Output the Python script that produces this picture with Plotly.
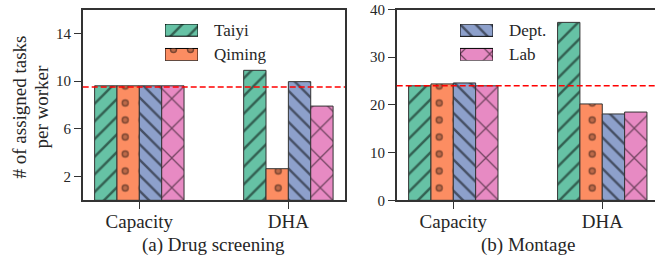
import plotly.graph_objects as go

# ---------------- data ----------------
categories = ["Capacity", "DHA"]
methods = ["Taiyi", "Qiming", "Dept.", "Lab"]
drug_taiyi = [9.6, 10.9]
drug_qiming = [9.6, 2.65]
drug_dept = [9.6, 9.95]
drug_lab = [9.6, 7.9]
montage_taiyi = [24.0, 37.3]
montage_qiming = [24.4, 20.2]
montage_dept = [24.6, 18.1]
montage_lab = [24.0, 18.5]
drug_baseline = 9.5
montage_baseline = 24.0
drug_yticks = [2, 6, 10, 14]
montage_yticks = [0, 10, 20, 30, 40]
subtitles = ["(a) Drug screening", "(b) Montage"]
ytitle_lines = ["# of assigned tasks", "per worker"]

# ---------------- style ----------------
W, H = 655, 260
FONT = "Liberation Serif, Times New Roman, Times, DejaVu Serif, serif"
TXT = "#262626"
EDGE = "#333333"
colors = {"Taiyi": "#66c2a5", "Qiming": "#fc8d62", "Dept.": "#8da0cb", "Lab": "#e78ac3"}
patterns = {
    "Taiyi": dict(shape="/", size=12.5, solidity=0.2, fgcolor="black"),
    "Qiming": dict(shape=".", size=17, solidity=0.15, fgcolor="black"),
    "Dept.": dict(shape="\\", size=11, solidity=0.22, fgcolor="black"),
    "Lab": dict(shape="x", size=21, solidity=0.12, fgcolor="black"),
}
ring_inner = dict(shape=".", size=17, solidity=0.055, fgcolor="#fc8d62", bgcolor="rgba(0,0,0,0)")
BW = 0.15
offsets = {m: -2 * BW + i * BW for i, m in enumerate(methods)}


def px_x(p):
    return p / W


def px_y(p):
    return 1 - p / H


fig = go.Figure()


def add_panel(vals, xa, ya):
    for m, v in zip(methods, vals):
        fig.add_trace(go.Bar(
            x=categories, y=v, width=BW, offset=offsets[m], xaxis=xa, yaxis=ya,
            marker=dict(color=colors[m], pattern=patterns[m], line=dict(color=EDGE, width=1)),
            showlegend=False, hoverinfo="skip"))
        if m == "Qiming":
            fig.add_trace(go.Bar(
                x=categories, y=v, width=BW, offset=offsets[m], xaxis=xa, yaxis=ya,
                marker=dict(color="rgba(0,0,0,0)", pattern=ring_inner, line=dict(width=0)),
                showlegend=False, hoverinfo="skip"))


add_panel([drug_taiyi, drug_qiming, drug_dept, drug_lab], "x", "y")
add_panel([montage_taiyi, montage_qiming, montage_dept, montage_lab], "x2", "y2")


def add_legend_patches(names, xa, ya):
    for m in names:
        fig.add_trace(go.Bar(
            x=[1], y=[m], orientation="h", width=0.5, xaxis=xa, yaxis=ya,
            marker=dict(color=colors[m], pattern=patterns[m], line=dict(color="black", width=1)),
            showlegend=False, hoverinfo="skip"))
        if m == "Qiming":
            fig.add_trace(go.Bar(
                x=[1], y=[m], orientation="h", width=0.5, xaxis=xa, yaxis=ya,
                marker=dict(color="rgba(0,0,0,0)", pattern=ring_inner, line=dict(width=0)),
                showlegend=False, hoverinfo="skip"))


add_legend_patches(["Taiyi", "Qiming"], "x3", "y3")
add_legend_patches(["Dept.", "Lab"], "x4", "y4")

axis_common = dict(showline=True, linecolor=EDGE, linewidth=1.5, ticks="outside",
                   ticklen=7, tickwidth=1.3, tickcolor=EDGE, showgrid=False, zeroline=False,
                   automargin=False)
hidden = dict(visible=False, automargin=False, showgrid=False, zeroline=False)

fig.update_layout(
    width=W, height=H, margin=dict(l=0, r=0, t=0, b=0, pad=0), autosize=False,
    paper_bgcolor="white", plot_bgcolor="rgba(0,0,0,0)",
    barmode="overlay", showlegend=False,
    font=dict(family=FONT, color=TXT),
    xaxis=dict(domain=[px_x(82.7), px_x(345)], range=[-0.38, 1.38], mirror=True,
               tickfont=dict(size=19, family=FONT), ticklabelstandoff=-4, anchor="y", **axis_common),
    yaxis=dict(domain=[px_y(200.3), px_y(9.5)], range=[0, 16], mirror=True,
               tickvals=drug_yticks, tickfont=dict(size=15, family=FONT), anchor="x", **axis_common),
    xaxis2=dict(domain=[px_x(396.7), 1.0], range=[-0.38, 1.354], mirror=True,
                tickfont=dict(size=19, family=FONT), ticklabelstandoff=-4, anchor="y2", **axis_common),
    yaxis2=dict(domain=[px_y(200.3), px_y(9.5)], range=[0, 40], mirror=False,
                tickvals=montage_yticks, tickfont=dict(size=15, family=FONT), anchor="x2", **axis_common),
    xaxis3=dict(domain=[px_x(165), px_x(198)], range=[0, 1], anchor="y3", **hidden),
    yaxis3=dict(domain=[px_y(60.7), px_y(24)], range=[-0.25, 1.25], anchor="x3",
                type="category", categoryarray=["Qiming", "Taiyi"], categoryorder="array", **hidden),
    xaxis4=dict(domain=[px_x(460), px_x(493)], range=[0, 1], anchor="y4", **hidden),
    yaxis4=dict(domain=[px_y(60.5), px_y(24.3)], range=[-0.25, 1.25], anchor="x4",
                type="category", categoryarray=["Lab", "Dept."], categoryorder="array", **hidden),
)

# baselines (red dashed)
for yref, xref, val in [("y", "x", drug_baseline), ("y2", "x2", montage_baseline)]:
    fig.add_shape(type="line", xref=f"{xref} domain", yref=yref, x0=0, x1=1, y0=val, y1=val,
                  line=dict(color="#ff0000", width=1.6, dash="6px,3px"), layer="above")

# legend labels
for txt, x, y in [("Taiyi", 211.7, 30.5), ("Qiming", 211.7, 54.5),
                  ("Dept.", 506.7, 30.5), ("Lab", 506.7, 54.5)]:
    fig.add_annotation(text=txt, x=px_x(x), y=px_y(y), xref="paper", yref="paper",
                       xanchor="left", yanchor="middle", showarrow=False,
                       font=dict(size=17, family=FONT, color=TXT))

# subtitles
for txt, cx in zip(subtitles, [213.9, 527.8]):
    fig.add_annotation(text=txt, x=px_x(cx), y=px_y(245), xref="paper", yref="paper",
                       xanchor="center", yanchor="middle", showarrow=False,
                       font=dict(size=19, family=FONT, color=TXT))

# y title (two lines)
for txt, cx in zip(ytitle_lines, [18.5, 40.5]):
    fig.add_annotation(text=txt, x=px_x(cx), y=px_y(107), xref="paper", yref="paper",
                       xanchor="center", yanchor="middle", textangle=-90, showarrow=False,
                       font=dict(size=19, family=FONT, color=TXT))

fig.write_html(
    "out.html",
    config={"responsive": False, "displayModeBar": False},
    post_script="document.body.style.margin='0';document.body.style.overflow='hidden';",
)
